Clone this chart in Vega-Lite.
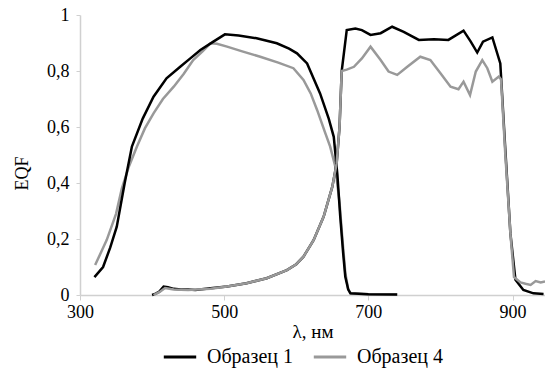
{
  "$schema": "https://vega.github.io/schema/vega-lite/v6.json",
  "width": 465,
  "height": 280,
  "autosize": {"type": "none"},
  "padding": {"left": 80, "top": 15, "right": 0, "bottom": 81},
  "data": {"values": [
    {"s":"Образец 1","g":"A","x":320,"y":0.064},{"s":"Образец 1","g":"A","x":332,"y":0.10},{"s":"Образец 1","g":"A","x":342,"y":0.17},{"s":"Образец 1","g":"A","x":351,"y":0.244},{"s":"Образец 1","g":"A","x":362,"y":0.40},{"s":"Образец 1","g":"A","x":372,"y":0.53},{"s":"Образец 1","g":"A","x":387,"y":0.63},{"s":"Образец 1","g":"A","x":402,"y":0.708},{"s":"Образец 1","g":"A","x":420,"y":0.774},{"s":"Образец 1","g":"A","x":439,"y":0.815},{"s":"Образец 1","g":"A","x":453,"y":0.845},{"s":"Образец 1","g":"A","x":467,"y":0.875},{"s":"Образец 1","g":"A","x":485,"y":0.905},{"s":"Образец 1","g":"A","x":501,"y":0.931},{"s":"Образец 1","g":"A","x":520,"y":0.927},{"s":"Образец 1","g":"A","x":545,"y":0.917},{"s":"Образец 1","g":"A","x":573,"y":0.899},{"s":"Образец 1","g":"A","x":590,"y":0.88},{"s":"Образец 1","g":"A","x":601,"y":0.863},{"s":"Образец 1","g":"A","x":615,"y":0.827},{"s":"Образец 1","g":"A","x":633,"y":0.72},{"s":"Образец 1","g":"A","x":645,"y":0.63},{"s":"Образец 1","g":"A","x":652,"y":0.565},{"s":"Образец 1","g":"A","x":657,"y":0.43},{"s":"Образец 1","g":"A","x":661,"y":0.28},{"s":"Образец 1","g":"A","x":665,"y":0.15},{"s":"Образец 1","g":"A","x":668,"y":0.065},{"s":"Образец 1","g":"A","x":672,"y":0.02},{"s":"Образец 1","g":"A","x":675,"y":0.006},{"s":"Образец 1","g":"A","x":700,"y":0.003},{"s":"Образец 1","g":"A","x":740,"y":0.002},
    {"s":"Образец 4","g":"A","x":321,"y":0.107},{"s":"Образец 4","g":"A","x":337,"y":0.196},{"s":"Образец 4","g":"A","x":350,"y":0.29},{"s":"Образец 4","g":"A","x":358,"y":0.38},{"s":"Образец 4","g":"A","x":368,"y":0.46},{"s":"Образец 4","g":"A","x":379,"y":0.53},{"s":"Образец 4","g":"A","x":390,"y":0.595},{"s":"Образец 4","g":"A","x":402,"y":0.649},{"s":"Образец 4","g":"A","x":415,"y":0.70},{"s":"Образец 4","g":"A","x":430,"y":0.744},{"s":"Образец 4","g":"A","x":444,"y":0.79},{"s":"Образец 4","g":"A","x":457,"y":0.839},{"s":"Образец 4","g":"A","x":470,"y":0.87},{"s":"Образец 4","g":"A","x":481,"y":0.899},{"s":"Образец 4","g":"A","x":490,"y":0.897},{"s":"Образец 4","g":"A","x":504,"y":0.887},{"s":"Образец 4","g":"A","x":525,"y":0.87},{"s":"Образец 4","g":"A","x":550,"y":0.851},{"s":"Образец 4","g":"A","x":575,"y":0.83},{"s":"Образец 4","g":"A","x":596,"y":0.81},{"s":"Образец 4","g":"A","x":610,"y":0.768},{"s":"Образец 4","g":"A","x":620,"y":0.72},{"s":"Образец 4","g":"A","x":629,"y":0.66},{"s":"Образец 4","g":"A","x":640,"y":0.58},{"s":"Образец 4","g":"A","x":647,"y":0.53},{"s":"Образец 4","g":"A","x":654,"y":0.46},{"s":"Образец 4","g":"A","x":660,"y":0.33},{"s":"Образец 4","g":"A","x":664,"y":0.2},{"s":"Образец 4","g":"A","x":668,"y":0.08},{"s":"Образец 4","g":"A","x":672,"y":0.02},{"s":"Образец 4","g":"A","x":676,"y":0.005},{"s":"Образец 4","g":"A","x":700,"y":0.003},{"s":"Образец 4","g":"A","x":740,"y":0.002},
    {"s":"Образец 1","g":"B","x":400,"y":0.0},{"s":"Образец 1","g":"B","x":405,"y":0.005},{"s":"Образец 1","g":"B","x":410,"y":0.012},{"s":"Образец 1","g":"B","x":416,"y":0.03},{"s":"Образец 1","g":"B","x":422,"y":0.028},{"s":"Образец 1","g":"B","x":430,"y":0.022},{"s":"Образец 1","g":"B","x":440,"y":0.02},{"s":"Образец 1","g":"B","x":450,"y":0.02},{"s":"Образец 1","g":"B","x":460,"y":0.018},{"s":"Образец 1","g":"B","x":481,"y":0.024},{"s":"Образец 1","g":"B","x":504,"y":0.03},{"s":"Образец 1","g":"B","x":531,"y":0.042},{"s":"Образец 1","g":"B","x":559,"y":0.06},{"s":"Образец 1","g":"B","x":587,"y":0.089},{"s":"Образец 1","g":"B","x":600,"y":0.11},{"s":"Образец 1","g":"B","x":610,"y":0.137},{"s":"Образец 1","g":"B","x":624,"y":0.196},{"s":"Образец 1","g":"B","x":638,"y":0.28},{"s":"Образец 1","g":"B","x":650,"y":0.387},{"s":"Образец 1","g":"B","x":656,"y":0.47},{"s":"Образец 1","g":"B","x":660,"y":0.6},{"s":"Образец 1","g":"B","x":663,"y":0.8},{"s":"Образец 1","g":"B","x":670,"y":0.946},{"s":"Образец 1","g":"B","x":682,"y":0.952},{"s":"Образец 1","g":"B","x":691,"y":0.946},{"s":"Образец 1","g":"B","x":703,"y":0.929},{"s":"Образец 1","g":"B","x":717,"y":0.935},{"s":"Образец 1","g":"B","x":733,"y":0.958},{"s":"Образец 1","g":"B","x":749,"y":0.94},{"s":"Образец 1","g":"B","x":770,"y":0.911},{"s":"Образец 1","g":"B","x":791,"y":0.913},{"s":"Образец 1","g":"B","x":811,"y":0.911},{"s":"Образец 1","g":"B","x":832,"y":0.944},{"s":"Образец 1","g":"B","x":842,"y":0.905},{"s":"Образец 1","g":"B","x":851,"y":0.866},{"s":"Образец 1","g":"B","x":859,"y":0.905},{"s":"Образец 1","g":"B","x":872,"y":0.92},{"s":"Образец 1","g":"B","x":883,"y":0.827},{"s":"Образец 1","g":"B","x":890,"y":0.518},{"s":"Образец 1","g":"B","x":897,"y":0.22},{"s":"Образец 1","g":"B","x":904,"y":0.054},{"s":"Образец 1","g":"B","x":915,"y":0.018},{"s":"Образец 1","g":"B","x":929,"y":0.006},{"s":"Образец 1","g":"B","x":943,"y":0.004},
    {"s":"Образец 4","g":"B","x":402,"y":0.0},{"s":"Образец 4","g":"B","x":410,"y":0.01},{"s":"Образец 4","g":"B","x":418,"y":0.025},{"s":"Образец 4","g":"B","x":430,"y":0.02},{"s":"Образец 4","g":"B","x":450,"y":0.018},{"s":"Образец 4","g":"B","x":481,"y":0.022},{"s":"Образец 4","g":"B","x":504,"y":0.03},{"s":"Образец 4","g":"B","x":531,"y":0.042},{"s":"Образец 4","g":"B","x":559,"y":0.06},{"s":"Образец 4","g":"B","x":587,"y":0.089},{"s":"Образец 4","g":"B","x":600,"y":0.11},{"s":"Образец 4","g":"B","x":610,"y":0.137},{"s":"Образец 4","g":"B","x":624,"y":0.196},{"s":"Образец 4","g":"B","x":638,"y":0.28},{"s":"Образец 4","g":"B","x":650,"y":0.387},{"s":"Образец 4","g":"B","x":656,"y":0.47},{"s":"Образец 4","g":"B","x":660,"y":0.6},{"s":"Образец 4","g":"B","x":663,"y":0.8},{"s":"Образец 4","g":"B","x":670,"y":0.805},{"s":"Образец 4","g":"B","x":680,"y":0.815},{"s":"Образец 4","g":"B","x":691,"y":0.845},{"s":"Образец 4","g":"B","x":703,"y":0.887},{"s":"Образец 4","g":"B","x":717,"y":0.839},{"s":"Образец 4","g":"B","x":728,"y":0.798},{"s":"Образец 4","g":"B","x":740,"y":0.786},{"s":"Образец 4","g":"B","x":754,"y":0.815},{"s":"Образец 4","g":"B","x":772,"y":0.851},{"s":"Образец 4","g":"B","x":786,"y":0.839},{"s":"Образец 4","g":"B","x":800,"y":0.792},{"s":"Образец 4","g":"B","x":814,"y":0.744},{"s":"Образец 4","g":"B","x":825,"y":0.735},{"s":"Образец 4","g":"B","x":832,"y":0.762},{"s":"Образец 4","g":"B","x":841,"y":0.714},{"s":"Образец 4","g":"B","x":849,"y":0.798},{"s":"Образец 4","g":"B","x":858,"y":0.839},{"s":"Образец 4","g":"B","x":865,"y":0.81},{"s":"Образец 4","g":"B","x":872,"y":0.762},{"s":"Образец 4","g":"B","x":881,"y":0.78},{"s":"Образец 4","g":"B","x":884,"y":0.77},{"s":"Образец 4","g":"B","x":890,"y":0.5},{"s":"Образец 4","g":"B","x":897,"y":0.22},{"s":"Образец 4","g":"B","x":902,"y":0.064},{"s":"Образец 4","g":"B","x":911,"y":0.045},{"s":"Образец 4","g":"B","x":918,"y":0.04},{"s":"Образец 4","g":"B","x":925,"y":0.036},{"s":"Образец 4","g":"B","x":932,"y":0.05},{"s":"Образец 4","g":"B","x":939,"y":0.045},{"s":"Образец 4","g":"B","x":945,"y":0.048}
  ]},
  "encoding": {
    "x": {"field": "x", "type": "quantitative", "scale": {"domain": [300, 945], "nice": false, "zero": false},
      "axis": {"values": [300, 500, 700, 900], "title": "λ, нм", "grid": false, "tickSize": 5, "labelPadding": 3, "titlePadding": 1, "labelFlush": false, "titleFontSize": 19}},
    "y": {"field": "y", "type": "quantitative", "scale": {"domain": [0, 1], "nice": false},
      "axis": {"values": [0, 0.2, 0.4, 0.6, 0.8, 1], "title": "EQF", "grid": false, "tickSize": 4, "labelPadding": 7,
        "labelExpr": "replace(format(datum.value, '~g'), '.', ',')", "titleX": -58, "titleY": 158, "titleBaseline": "middle", "titleAngle": -90}},
    "color": {"field": "s", "type": "nominal", "title": null,
      "scale": {"domain": ["Образец 1", "Образец 4"], "range": ["#000000", "#999999"]},
      "legend": {"orient": "none", "legendX": 82, "legendY": 324, "direction": "horizontal", "symbolType": "stroke", "symbolSize": 1050, "symbolStrokeWidth": 3, "labelOffset": 9, "columnPadding": 14}}
  },
  "layer": [
    {"transform": [{"filter": "datum.s == 'Образец 4' && datum.g == 'A'"}], "mark": {"type": "line", "strokeWidth": 2.5}},
    {"transform": [{"filter": "datum.s == 'Образец 1' && datum.g == 'A'"}], "mark": {"type": "line", "strokeWidth": 2.5}},
    {"transform": [{"filter": "datum.s == 'Образец 1' && datum.g == 'B'"}], "mark": {"type": "line", "strokeWidth": 2.5}},
    {"transform": [{"filter": "datum.s == 'Образец 4' && datum.g == 'B'"}], "mark": {"type": "line", "strokeWidth": 2.5}}
  ],
  "config": {
    "font": "Liberation Serif",
    "view": {"stroke": null},
    "axis": {"labelFont": "Liberation Serif", "titleFont": "Liberation Serif", "labelFontSize": 18, "titleFontSize": 18, "titleFontWeight": "normal", "labelColor": "#000", "titleColor": "#000", "domainColor": "#d0d0d0", "tickColor": "#d0d0d0", "domainWidth": 1.5},
    "legend": {"labelFont": "Liberation Serif", "labelFontSize": 20, "labelColor": "#000"}
  }
}
